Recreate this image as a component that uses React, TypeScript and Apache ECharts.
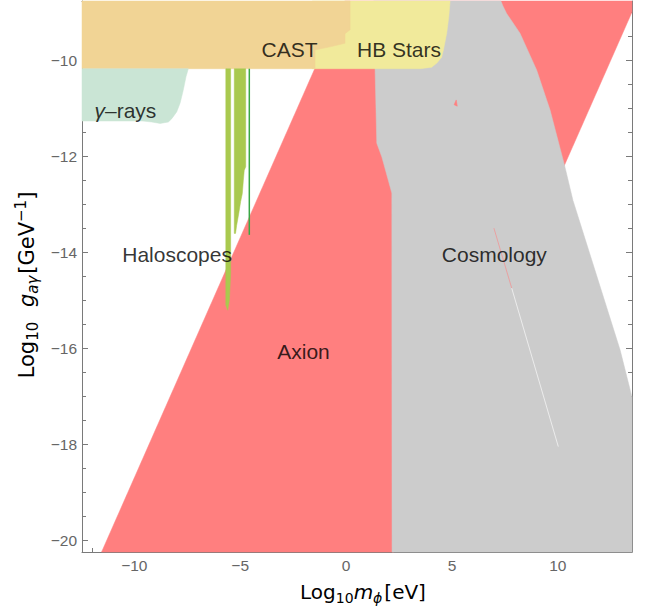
import React, { useEffect, useRef } from "react";
import * as echarts from "echarts";

// Axis ranges (log10 units)
const X_MIN = -12.47;
const X_MAX = 13.5;
const Y_MIN = -20.245;
const Y_MAX = -8.77;

// Tick values
const X_MAJOR = [-10, -5, 0, 5, 10];
const X_MINOR = [-12, -11, -9, -8, -7, -6, -4, -3, -2, -1, 1, 2, 3, 4, 6, 7, 8, 9, 11, 12, 13];
const Y_MAJOR = [-20, -18, -16, -14, -12, -10];
const Y_MINOR = [-19.5, -19, -18.5, -17.5, -17, -16.5, -15.5, -15, -14.5, -13.5, -13, -12.5, -11.5, -11, -10.5, -9.5, -9];

// Regions: [log10 m, log10 g]
const AXION_BAND = [
  [-11.545, -20.245], [-0.07, -8.77], [13.5, -8.77], [13.5, -9.0], [2.255, -20.245],
];
const COSMOLOGY = [
  [1.3, -8.77], [1.37, -10.21], [1.45, -11.73], [1.69, -12.02], [2.16, -12.77], [2.17, -20.245],
  [13.5, -20.245], [13.5, -17.02], [12.94, -16.04], [10.71, -12.92], [10.33, -12.22],
  [9.63, -11.04], [9.47, -10.83], [9.0, -10.21], [8.21, -9.44], [7.58, -9.03], [7.4, -8.87], [7.31, -8.77],
];
const HB_STARS = [
  [-1.6, -8.77], [4.91, -8.77], [4.85, -9.1], [4.75, -9.44], [4.6, -9.78], [4.51, -9.94],
  [4.29, -10.06], [4.04, -10.15], [3.5, -10.18], [-1.6, -10.18],
];
const CAST = [
  [-12.47, -8.77], [0.19, -8.77], [0.19, -9.37], [-0.05, -9.45], [-0.05, -9.65], [-0.7, -9.72],
  [-1.47, -9.79], [-1.47, -10.18], [-12.47, -10.18],
];
const GAMMA_RAYS = [
  [-12.47, -10.18], [-7.45, -10.18], [-7.56, -10.35], [-7.69, -10.63], [-7.84, -10.9], [-8.0, -11.08],
  [-8.23, -11.22], [-8.39, -11.29], [-8.78, -11.32], [-9.18, -11.29], [-9.6, -11.27], [-12.47, -11.27],
];
const HALO_A = [
  [-5.68, -10.18], [-5.45, -10.18], [-5.45, -14.44], [-5.51, -15.0], [-5.59, -15.21], [-5.68, -15.1],
];
const HALO_B = [
  [-5.28, -10.18], [-4.74, -10.18], [-4.74, -12.22], [-4.81, -12.3], [-4.85, -12.5], [-4.9, -12.78],
  [-4.98, -12.95], [-5.07, -13.2], [-5.17, -13.45], [-5.22, -13.61], [-5.28, -13.61],
];
const HALO_LINE = [[-4.57, -10.18], [-4.57, -13.64]];
const RED_SLIVER = [[6.98, -13.5], [7.82, -14.75]];
const WHITE_SLIVER = [[7.82, -14.75], [10.02, -18.05]];
const RED_SPECK = [[5.2, -10.83], [5.1, -10.93], [5.25, -10.96]];

// Region labels
const LABEL_NAMES = ["CAST", "HB Stars", "{g|γ}–rays", "Haloscopes", "Axion", "Cosmology"];
const LABEL_X = [-2.67, 2.5, -10.42, -7.98, -2.01, 7.0];
const LABEL_Y = [-9.79, -9.79, -11.06, -14.04, -16.06, -14.04];

const FONT = "'Liberation Sans', Arial, sans-serif";
const TITLE_FONT = "'DejaVu Sans', sans-serif";
const AXIS_COLOR = "#7a7a7a";
const LABEL_COLOR = "#666";
const TITLE_COLOR = "#707070";

const fmt = (v: number) => (v < 0 ? "\u2212" + Math.abs(v) : String(v));

function polySeries(pts: number[][], color: string, z: number) {
  return {
    type: "custom",
    xAxisIndex: 0,
    yAxisIndex: 0,
    z,
    silent: true,
    data: pts,
    renderItem: (params: any, api: any) => {
      if (params.dataIndex !== 0) return null;
      return {
        type: "polygon",
        shape: { points: pts.map((p) => api.coord(p)) },
        style: { fill: color, stroke: color, lineWidth: 0.5 },
      };
    },
  };
}

function lineSeries(pts: number[][], color: string, width: number, z: number) {
  return {
    type: "custom",
    xAxisIndex: 0,
    yAxisIndex: 0,
    z,
    silent: true,
    data: pts,
    renderItem: (params: any, api: any) => {
      if (params.dataIndex !== 0) return null;
      return {
        type: "polyline",
        shape: { points: pts.map((p) => api.coord(p)) },
        style: { stroke: color, lineWidth: width, fill: null },
      };
    },
  };
}

function axisCfg(kind: "x" | "y", grid: number, pos: string, values: number[], len: number, labels: boolean, line: boolean) {
  return {
    type: "value",
    gridIndex: grid,
    position: pos,
    min: kind === "x" ? X_MIN : Y_MIN,
    max: kind === "x" ? X_MAX : Y_MAX,
    splitLine: { show: false },
    axisLine: { show: line, onZero: false, lineStyle: { color: AXIS_COLOR, width: 1 } },
    axisTick: { show: true, inside: true, length: len, customValues: values, lineStyle: { color: AXIS_COLOR } },
    axisLabel: {
      show: labels,
      customValues: values,
      formatter: fmt,
      color: LABEL_COLOR,
      fontSize: 15.5,
      fontFamily: FONT,
      margin: 5,
    },
  };
}

function richSet(main: number, sub: number) {
  const base = { color: TITLE_COLOR, fontFamily: TITLE_FONT };
  const lh = Math.round(main * 1.3);
  return {
    n: { ...base, fontSize: main, lineHeight: lh },
    i: { ...base, fontSize: main, lineHeight: lh, fontStyle: "italic" },
    s: { ...base, fontSize: sub, lineHeight: sub + 1, verticalAlign: "bottom" },
    si: { ...base, fontSize: sub, lineHeight: sub + 1, fontStyle: "italic", verticalAlign: "bottom", padding: [0, 2, 0, 0] },
    sup: { ...base, fontSize: sub, lineHeight: sub + 1, verticalAlign: "top" },
    sp: { ...base, fontSize: main, lineHeight: lh, padding: [0, 4, 0, 4] },
  };
}

export default function App() {
  const ref = useRef<HTMLDivElement>(null);
  useEffect(() => {
    if (!ref.current) return;
    const chart = echarts.init(ref.current, undefined, { renderer: "svg" });
    const gridRect = { left: 82, top: 1, width: 550, height: 551, containLabel: false, outerBoundsMode: "none" };
    chart.setOption({
      animation: false,
      backgroundColor: "#fff",
      grid: [{ ...gridRect }, { ...gridRect }],
      xAxis: [
        axisCfg("x", 0, "bottom", X_MAJOR, 6, true, true),
        axisCfg("x", 0, "top", X_MAJOR, 6, false, true),
        axisCfg("x", 1, "bottom", X_MINOR, 4, false, false),
        axisCfg("x", 1, "top", X_MINOR, 4, false, false),
      ],
      yAxis: [
        axisCfg("y", 0, "left", Y_MAJOR, 6, true, true),
        axisCfg("y", 0, "right", Y_MAJOR, 6, false, true),
        axisCfg("y", 1, "left", Y_MINOR, 4, false, false),
        axisCfg("y", 1, "right", Y_MINOR, 4, false, false),
      ],
      series: [
        polySeries(AXION_BAND, "#ff7f7f", 1),
        polySeries(COSMOLOGY, "#cccccc", 2),
        polySeries(RED_SPECK, "#ff7f7f", 3),
        lineSeries(RED_SLIVER, "rgba(255,128,128,0.7)", 0.8, 3),
        lineSeries(WHITE_SLIVER, "#f4f4f4", 0.8, 3),
        polySeries(HB_STARS, "#f1ea9b", 4),
        polySeries(CAST, "#f1d495", 5),
        polySeries(GAMMA_RAYS, "#cae5d5", 5),
        polySeries(HALO_A, "#a9c94f", 6),
        polySeries(HALO_B, "#a9c94f", 6),
        lineSeries(HALO_LINE, "#3aa844", 1.5, 7),
        {
          type: "scatter",
          xAxisIndex: 0,
          yAxisIndex: 0,
          z: 10,
          silent: true,
          symbolSize: 1,
          itemStyle: { color: "rgba(0,0,0,0)" },
          data: LABEL_NAMES.map((n, i) => [LABEL_X[i], LABEL_Y[i], n]),
          label: {
            show: true,
            position: "inside",
            formatter: (p: any) => p.data[2],
            color: "#000",
            fontSize: 21,
            fontFamily: FONT,
            textBorderWidth: 0,
            rich: { g: { fontStyle: "italic", fontSize: 21, color: "#000", fontFamily: FONT } },
          },
        },
      ],
      graphic: [
        {
          type: "text",
          x: 363,
          y: 592,
          style: {
            text: "{n|Log}{s|10}{i|m}{si|ϕ}{n|[eV]}",
            rich: richSet(20, 14),
            align: "center",
            verticalAlign: "middle",
          },
        },
        {
          type: "text",
          x: 27,
          y: 285,
          rotation: Math.PI / 2,
          style: {
            text: "{n|Log}{s|10}{sp| }{i|g}{si|aγ}{n|[GeV}{sup|−1}{n|]}",
            rich: richSet(21, 15),
            align: "center",
            verticalAlign: "middle",
          },
        },
      ],
    });
    return () => chart.dispose();
  }, []);
  return <div ref={ref} style={{ position: "fixed", left: 0, top: 0, width: 646, height: 612 }} />;
}
